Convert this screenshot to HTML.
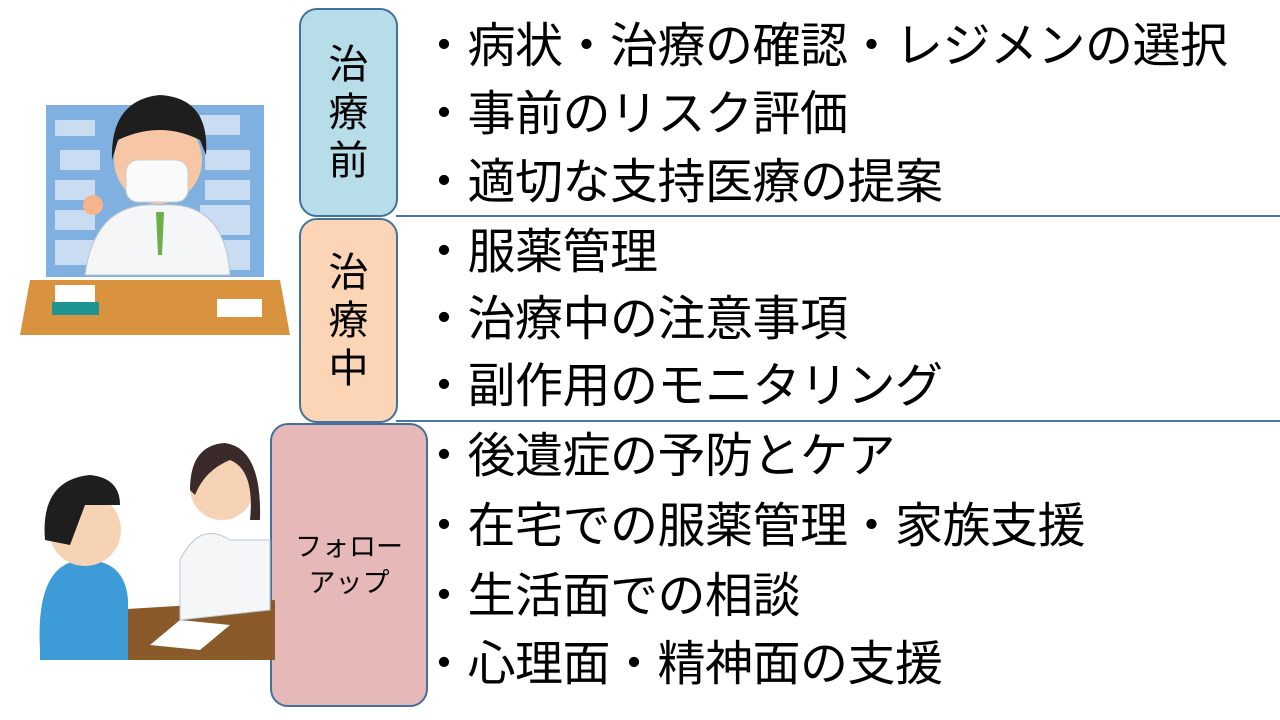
<!DOCTYPE html>
<html><head><meta charset="utf-8"><style>
body{margin:0;width:1280px;height:720px;background:#fff;position:relative;overflow:hidden;font-family:"Liberation Sans","Noto Sans CJK JP",sans-serif;}
.box{position:absolute;box-sizing:border-box;border:2.5px solid #41719c;border-radius:18px;display:flex;align-items:center;justify-content:center;text-align:center;color:#000;}
.t{position:absolute;font-size:48px;line-height:50px;white-space:nowrap;color:#000;letter-spacing:-0.5px;}
.ln{position:absolute;height:2px;background:#4a74a8;left:396px;right:0;}
</style></head><body>
<div class="box" style="left:299px;top:8px;width:99px;height:209px;background:#b7dee8;font-size:40px;line-height:48px;">治<br>療<br>前</div>
<div class="box" style="left:299px;top:218px;width:99px;height:205px;background:#fbd5b5;font-size:40px;line-height:48px;">治<br>療<br>中</div>
<div class="box" style="left:270px;top:423px;width:158px;height:284px;background:#e6b9b8;font-size:27px;line-height:36px;">フォロー<br>アップ</div>
<div class="ln" style="top:215px"></div>
<div class="ln" style="top:420px"></div>
<div class="t" style="left:420px;top:22px">・病状・治療の確認・レジメンの選択</div>
<div class="t" style="left:420px;top:90px">・事前のリスク評価</div>
<div class="t" style="left:420px;top:158px">・適切な支持医療の提案</div>
<div class="t" style="left:420px;top:228px">・服薬管理</div>
<div class="t" style="left:420px;top:295px">・治療中の注意事項</div>
<div class="t" style="left:420px;top:362px">・副作用のモニタリング</div>
<div class="t" style="left:420px;top:432px">・後遺症の予防とケア</div>
<div class="t" style="left:420px;top:502px">・在宅での服薬管理・家族支援</div>
<div class="t" style="left:420px;top:572px">・生活面での相談</div>
<div class="t" style="left:420px;top:640px">・心理面・精神面の支援</div>
<svg style="position:absolute;left:0;top:0" width="300" height="720">
<rect x="46" y="105" width="218" height="172" fill="#7fb0e0"/>
<g fill="#c9dcf2"><rect x="55" y="120" width="40" height="16"/><rect x="200" y="115" width="40" height="20"/><rect x="60" y="150" width="40" height="20"/><rect x="205" y="150" width="45" height="20"/><rect x="55" y="180" width="40" height="20"/><rect x="205" y="180" width="45" height="20"/><rect x="55" y="210" width="40" height="20"/><rect x="200" y="205" width="50" height="30"/><rect x="55" y="240" width="45" height="25"/><rect x="205" y="240" width="45" height="30"/></g>
<path d="M85 275 Q95 200 160 205 Q225 200 230 275Z" fill="#f4f6f8" stroke="#b8c6d0"/>
<path d="M156 212 L164 212 L162 255 L158 255Z" fill="#6cb04a"/>
<circle cx="158" cy="160" r="44" fill="#f7c7a5"/>
<path d="M112 160 Q110 100 160 95 Q210 98 206 155 L200 140 Q160 120 118 140Z" fill="#1e1e1e"/>
<rect x="126" y="160" width="62" height="42" rx="12" fill="#fafafa" stroke="#ccc"/>
<circle cx="93" cy="205" r="10" fill="#f7b48c"/>
<path d="M30 280 L280 280 L290 335 L20 335Z" fill="#d9933f"/>
<rect x="55" y="285" width="40" height="18" fill="#fff"/><rect x="52" y="302" width="47" height="13" fill="#1d9393"/>
<rect x="217" y="299" width="45" height="18" fill="#fff"/>
<path d="M110 610 L275 600 L275 660 L120 660Z" fill="#8a5a2a"/>
<path d="M150 645 L180 620 L230 625 L200 650Z" fill="#fff"/>
<path d="M230 540 Q200 520 180 560 L180 620 L270 610 L270 540Z" fill="#f4f6f8" stroke="#b8c6d0"/>
<circle cx="222" cy="488" r="32" fill="#f7d3b5"/>
<path d="M190 490 Q190 445 225 443 Q262 448 260 520 L250 520 Q255 470 230 460 Q205 470 195 495Z" fill="#3a2a2a"/>
<path d="M40 650 Q35 560 85 560 Q125 560 128 600 L128 660 L40 660Z" fill="#3d9bd8"/>
<circle cx="85" cy="530" r="36" fill="#f7d3b5"/>
<path d="M45 540 Q40 480 90 475 Q120 478 120 505 L85 505 L70 545Z" fill="#1e1e1e"/>
</svg>
</body></html>
